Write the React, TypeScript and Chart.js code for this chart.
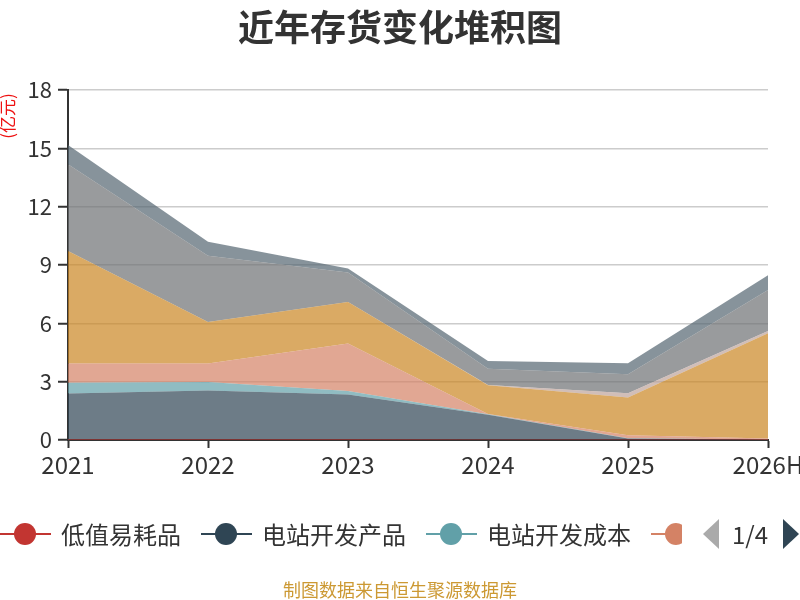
import { useEffect, useRef } from "react";
import { Chart, registerables } from "chart.js";

Chart.register(...registerables);

// 亿元
const years = ["2021", "2022", "2023", "2024", "2025", "2026H"];
const diZhiYiHaoPin = [0.04, 0.04, 0.04, 0.03, 0.02, 0.02];
const dianZhanChanPin = [2.35, 2.5, 2.3, 1.27, 0.06, 0.01];
const dianZhanChengBen = [0.56, 0.44, 0.18, 0.02, 0.01, 0.0];
const faChuShangPin = [0.98, 0.95, 2.44, 0.02, 0.15, 0.05];
const gongChengShiGong = [0, 0, 0, 0, 0, 0];
const heTongChengBen = [0, 0, 0, 0, 0, 0];
const kuCunShangPin = [5.79, 2.14, 2.14, 1.47, 1.94, 5.41];
const weiTuoJiaGong = [0, 0, 0, 0.02, 0.22, 0.12];
const yuanCaiLiao = [4.46, 3.4, 1.51, 0.84, 0.98, 2.11];
const zaiChanPin = [0.99, 0.72, 0.21, 0.39, 0.57, 0.75];

const seriesNames = [
  "低值易耗品",
  "电站开发产品",
  "电站开发成本",
  "发出商品",
  "工程施工",
  "合同履约成本",
  "库存商品",
  "委托加工物资",
  "原材料",
  "在产品",
];
const seriesValues = [
  diZhiYiHaoPin,
  dianZhanChanPin,
  dianZhanChengBen,
  faChuShangPin,
  gongChengShiGong,
  heTongChengBen,
  kuCunShangPin,
  weiTuoJiaGong,
  yuanCaiLiao,
  zaiChanPin,
];
const palette = [
  "#c23531",
  "#2f4554",
  "#61a0a8",
  "#d48265",
  "#91c7ae",
  "#749f83",
  "#ca8622",
  "#bda29a",
  "#6e7074",
  "#546570",
];

const FONT = "'Noto Sans CJK SC', 'Noto Sans', sans-serif";

function fade(hex: string, a: number) {
  const n = parseInt(hex.slice(1), 16);
  return `rgba(${(n >> 16) & 255},${(n >> 8) & 255},${n & 255},${a})`;
}

const unitLabel = {
  id: "unitLabel",
  afterDraw(chart: Chart) {
    const { ctx } = chart;
    ctx.save();
    ctx.translate(8, 116);
    ctx.rotate(-Math.PI / 2);
    ctx.font = `17px ${FONT}`;
    ctx.fillStyle = "#ee1111";
    ctx.textAlign = "center";
    ctx.textBaseline = "middle";
    ctx.fillText("(亿元)", 0, 0);
    ctx.restore();
  },
};

function StackChart() {
  const ref = useRef<HTMLCanvasElement | null>(null);
  useEffect(() => {
    if (!ref.current) return;
    const chart = new Chart(ref.current, {
      type: "line",
      data: {
        labels: years,
        datasets: seriesValues.map((vals, i) => ({
          label: seriesNames[i],
          data: vals,
          fill: i === 0 ? "origin" : "-1",
          backgroundColor: fade(palette[i], 0.7),
          borderColor: fade(palette[i], 0.7),
          borderWidth: 0,
          pointRadius: 0,
          tension: 0,
        })),
      },
      options: {
        animation: false,
        responsive: false,
        layout: { padding: { left: 0, top: 90, right: 32, bottom: 100 } },
        plugins: {
          legend: { display: false },
          tooltip: { enabled: false },
        },
        scales: {
          x: {
            offset: false,
            grid: {
              drawOnChartArea: false,
              drawTicks: true,
              tickLength: 8,
              tickColor: "#333",
              tickWidth: 2,
            },
            border: { color: "#333", width: 2 },
            ticks: {
              color: "#333",
              font: { family: FONT, size: 24 },
              padding: 2,
              maxRotation: 0,
              autoSkip: false,
            },
            afterFit(scale: any) {
              scale.height = 60;
              scale.paddingLeft = 0;
              scale.paddingRight = 0;
            },
          },
          y: {
            stacked: true,
            min: 0,
            max: 18,
            ticks: {
              stepSize: 3,
              color: "#333",
              font: { family: FONT, size: 22 },
              padding: 6,
            },
            grid: {
              color: "#cccccc",
              lineWidth: 1.5,
              tickLength: 10,
              tickColor: "#333",
              tickWidth: 2,
            },
            border: { color: "#333", width: 2 },
            afterFit(scale: any) {
              scale.width = 68;
              scale.paddingTop = 0;
              scale.paddingBottom = 0;
            },
          },
        },
      },
      plugins: [unitLabel],
    });
    return () => chart.destroy();
  }, []);
  return <canvas ref={ref} width={800} height={600} style={{ display: "block" }} />;
}

function Legend() {
  return (
    <div
      style={{
        position: "absolute",
        left: 0,
        top: 519,
        width: 682,
        height: 30,
        overflow: "hidden",
        display: "flex",
        alignItems: "center",
        whiteSpace: "nowrap",
      }}
    >
      {seriesNames.slice(0, 4).map((name, i) => (
        <div key={name} style={{ display: "flex", alignItems: "center", marginRight: 20, flexShrink: 0 }}>
          <span style={{ position: "relative", width: 51, height: 30, display: "inline-block" }}>
            <span
              style={{
                position: "absolute",
                left: 0,
                top: 14,
                width: 51,
                height: 2,
                background: palette[i],
              }}
            />
            <span
              style={{
                position: "absolute",
                left: 14,
                top: 4,
                width: 22,
                height: 22,
                borderRadius: "50%",
                background: palette[i],
              }}
            />
          </span>
          <span
            style={{
              marginLeft: 10,
              font: `24px ${FONT}`,
              lineHeight: "30px",
              color: "#333",
            }}
          >
            {name}
          </span>
        </div>
      ))}
    </div>
  );
}

function Pager() {
  return (
    <>
      <span
        style={{
          position: "absolute",
          left: 703,
          top: 519,
          width: 0,
          height: 0,
          borderTop: "15px solid transparent",
          borderBottom: "15px solid transparent",
          borderRight: "16px solid #aaaaaa",
        }}
      />
      <span
        style={{
          position: "absolute",
          left: 732,
          top: 519,
          font: `24px ${FONT}`,
          lineHeight: "30px",
          color: "#333",
        }}
      >
        1/4
      </span>
      <span
        style={{
          position: "absolute",
          left: 783,
          top: 519,
          width: 0,
          height: 0,
          borderTop: "15px solid transparent",
          borderBottom: "15px solid transparent",
          borderLeft: "16px solid #2f4554",
        }}
      />
    </>
  );
}

export default function App() {
  return (
    <div
      style={{
        position: "absolute",
        left: 0,
        top: 0,
        width: 800,
        height: 600,
        overflow: "hidden",
        background: "#fff",
      }}
    >
      <StackChart />
      <div
        style={{
          position: "absolute",
          left: 0,
          top: 0,
          width: 800,
          textAlign: "center",
          font: `bold 36px ${FONT}`,
          lineHeight: "50px",
          color: "#333",
        }}
      >
        近年存货变化堆积图
      </div>
      <Legend />
      <Pager />
      <div
        style={{
          position: "absolute",
          left: 0,
          top: 578,
          width: 800,
          textAlign: "center",
          font: `18px ${FONT}`,
          lineHeight: "22px",
          color: "#cc9933",
        }}
      >
        制图数据来自恒生聚源数据库
      </div>
    </div>
  );
}
